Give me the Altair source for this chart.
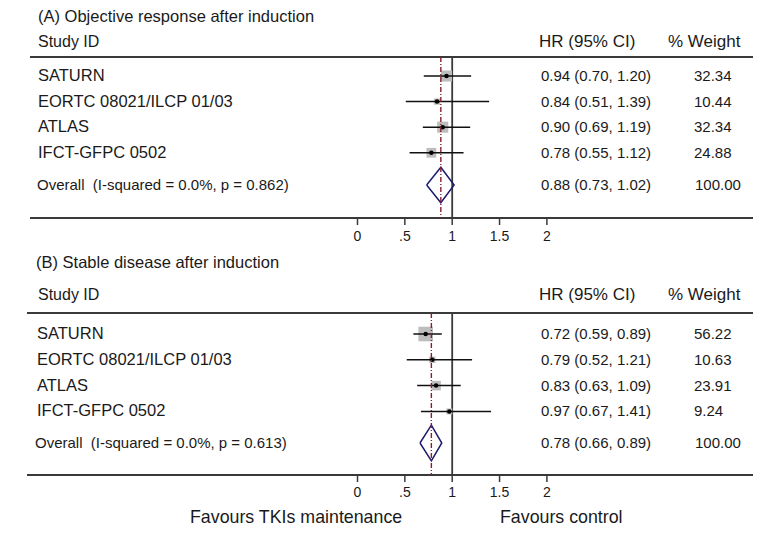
import altair as alt
import pandas as pd

# ---------------- data ----------------
studies = ["SATURN", "EORTC 08021/ILCP 01/03", "ATLAS", "IFCT-GFPC 0502"]

a_title = "(A)  Objective response after induction"
a_hr = [0.94, 0.84, 0.90, 0.78]
a_lo = [0.70, 0.51, 0.69, 0.55]
a_hi = [1.20, 1.39, 1.19, 1.12]
a_weight = [32.34, 10.44, 32.34, 24.88]
a_overall = [0.88, 0.73, 1.02]
a_i2 = 0.0
a_p = 0.862

b_title = "(B) Stable disease after induction"
b_hr = [0.72, 0.79, 0.83, 0.97]
b_lo = [0.59, 0.52, 0.63, 0.67]
b_hi = [0.89, 1.21, 1.09, 1.41]
b_weight = [56.22, 10.63, 23.91, 9.24]
b_overall = [0.78, 0.66, 0.89]
b_i2 = 0.0
b_p = 0.613

tick_values = [0, 0.5, 1, 1.5, 2]
tick_labels = ["0", ".5", "1", "1.5", "2"]
favours = ["Favours TKIs maintenance", "Favours control"]
col_headers = ["Study ID", "HR (95% CI)", "% Weight"]

# ---------------- style / layout ----------------
FONT = "Liberation Sans"
TXT = "#1a1a1a"
LINE = "#3a3a3a"
NBSP = "\u00a0"
W, H = 747, 512
xscale = alt.Scale(domain=[-3.6906, 4.1975], nice=False, zero=False)
yscale = alt.Scale(domain=[18, 530], reverse=True, nice=False, zero=False)


def X(f):
    return alt.X(f"{f}:Q", scale=xscale, axis=None)


def Y(f="y"):
    return alt.Y(f"{f}:Q", scale=yscale, axis=None)


def text_layer(df, field, x, size, align="left"):
    return alt.Chart(df).mark_text(
        align=align, baseline="middle", font=FONT, fontSize=size, color=TXT
    ).encode(x=x, y=Y(), text=f"{field}:N")


LA = dict(title=17, title_x=30, header=42, line_top=57, line_x0=22, row0=76, step=25.6,
          overall=185, half=17.7, line_bot=218, ticklab=237, label_x=30, ov_x=29)
LB = dict(title=263, title_x=28, header=295, line_top=313, line_x0=19, row0=334, step=25.8,
          overall=443, half=17.8, line_bot=475, ticklab=493, label_x=29, ov_x=27)


def panel_layers(title, hr, lo, hi, weight, overall, i2, p, L):
    ys = [L["row0"] + i * L["step"] for i in range(len(studies))]
    rows = pd.DataFrame({
        "study": studies, "hr": hr, "lo": lo, "hi": hi, "w": weight, "y": ys,
        "hr_text": [f"{a:.2f} ({b:.2f}, {c:.2f})" for a, b, c in zip(hr, lo, hi)],
        "w_text": [f"{v:.2f}" for v in weight],
    })
    est, olo, ohi = overall
    ov = pd.DataFrame({
        "label": [f"Overall {NBSP}(I-squared = {i2:.1f}%, p = {p:.3f})"],
        "y": [L["overall"]],
        "hr_text": [f"{est:.2f} ({olo:.2f}, {ohi:.2f})"],
        "w_text": [f"{sum(weight):.2f}"],
    })
    c, h = L["overall"], L["half"]
    diamond = pd.DataFrame({"x": [olo, est, ohi, est, olo],
                            "y": [c, c - h, c, c + h, c], "o": [0, 1, 2, 3, 4]})
    ticks = pd.DataFrame({"x": tick_values, "lab": tick_labels,
                          "y": [L["line_bot"]] * len(tick_values),
                          "y2": [L["line_bot"] + 7] * len(tick_values),
                          "yl": [L["ticklab"]] * len(tick_values)})
    top, bot = L["line_top"], L["line_bot"]

    layers = []
    layers.append(text_layer(pd.DataFrame({"t": [title], "y": [L["title"]]}), "t",
                             alt.value(L["title_x"]), 16.5))
    hdr = pd.DataFrame({"t": col_headers, "y": [L["header"]] * 3})
    layers.append(text_layer(hdr.iloc[[0]], "t", alt.value(30), 16))
    layers.append(text_layer(hdr.iloc[[1]], "t", alt.value(531), 17))
    layers.append(text_layer(hdr.iloc[[2]], "t", alt.value(660), 17))
    layers.append(alt.Chart(pd.DataFrame({"y": [top, bot]})).mark_rule(
        color=LINE, strokeWidth=2).encode(x=alt.value(L["line_x0"]), x2=alt.value(745), y=Y()))
    layers.append(alt.Chart(pd.DataFrame({"x": [1], "y": [top], "y2": [bot]})).mark_rule(
        color=LINE, strokeWidth=1.8).encode(x=X("x"), y=Y(), y2="y2:Q"))
    layers.append(alt.Chart(rows).mark_square(color="#bdbdbd", opacity=1).encode(
        x=X("hr"), y=Y(),
        size=alt.Size("w:Q", scale=alt.Scale(domain=[0, 100], range=[0, 380]), legend=None)))
    layers.append(alt.Chart(rows).mark_rule(color="#111111", strokeWidth=1.5).encode(
        x=X("lo"), x2="hi:Q", y=Y()))
    layers.append(alt.Chart(rows).mark_circle(color="#000000", size=20, opacity=1).encode(
        x=X("hr"), y=Y()))
    layers.append(alt.Chart(diamond).mark_line(color="#1c1c6e", strokeWidth=1.5).encode(
        x=X("x"), y=Y(), order="o:O"))
    layers.append(alt.Chart(pd.DataFrame({"x": [est], "y": [top], "y2": [bot]})).mark_rule(
        color="#8b1c2c", strokeWidth=1.4, strokeDash=[5, 2, 1, 2]).encode(
        x=X("x"), y=Y(), y2="y2:Q"))
    layers.append(text_layer(rows, "study", alt.value(L["label_x"]), 16.5))
    layers.append(text_layer(rows, "hr_text", alt.value(533), 15))
    layers.append(text_layer(rows, "w_text", alt.value(686), 15))
    layers.append(text_layer(ov, "label", alt.value(L["ov_x"]), 15))
    layers.append(text_layer(ov, "hr_text", alt.value(533), 15))
    layers.append(text_layer(ov, "w_text", alt.value(687), 15))
    layers.append(alt.Chart(ticks).mark_rule(color=LINE, strokeWidth=1.5).encode(
        x=X("x"), y=Y(), y2="y2:Q"))
    layers.append(alt.Chart(ticks).mark_text(
        align="center", baseline="middle", font=FONT, fontSize=14, color=TXT).encode(
        x=X("x"), y=Y("yl"), text="lab:N"))
    return layers


layers = []
layers += panel_layers(a_title, a_hr, a_lo, a_hi, a_weight, a_overall, a_i2, a_p, LA)
layers += panel_layers(b_title, b_hr, b_lo, b_hi, b_weight, b_overall, b_i2, b_p, LB)

fav = pd.DataFrame({"t": favours, "y": [518, 518]})
layers.append(text_layer(fav.iloc[[0]], "t", alt.value(182), 17.8))
layers.append(text_layer(fav.iloc[[1]], "t", alt.value(492), 17.8))

chart = alt.layer(*layers).properties(
    width=W, height=H,
    padding={"top": 10, "left": 0, "right": 0, "bottom": 0},
    autosize=alt.AutoSizeParams(type="none"),
    background="white",
).configure_view(stroke=None)

chart.save("out.html", embed_options={"renderer": "svg", "actions": False})
